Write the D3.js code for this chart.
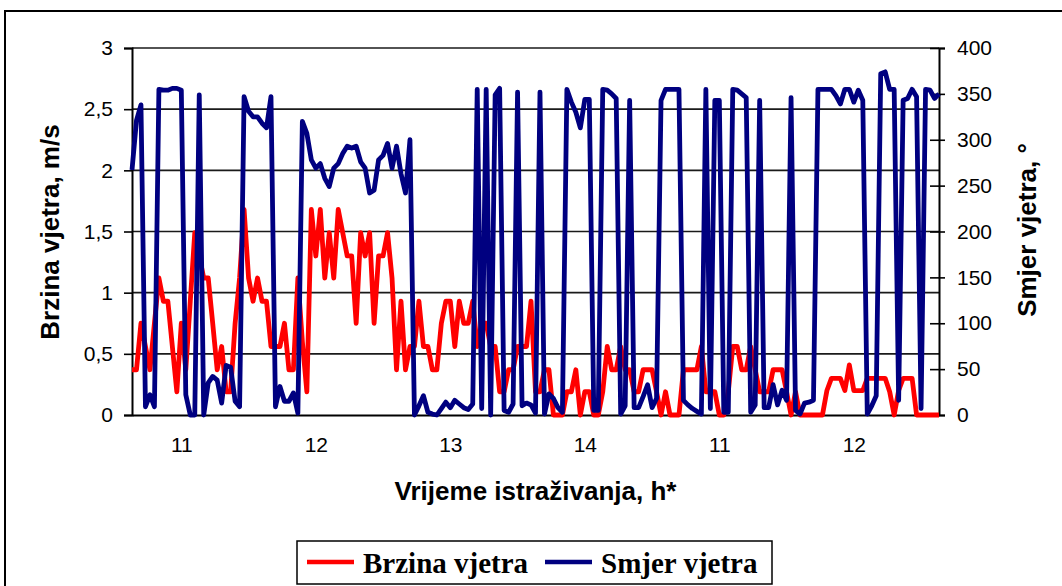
<!DOCTYPE html>
<html><head><meta charset="utf-8">
<script src="https://cdn.jsdelivr.net/npm/d3@7"></script>
<style>body{margin:0;background:#fff}svg{display:block}</style>
</head><body>
<svg id="c" width="1062" height="586"></svg>
<script>
const hourLabels = ["11","12","13","14","11","12"];
const hourTickIndex = [11,41,71,101,131,161];
const speedTicks = [0,0.5,1,1.5,2,2.5,3];
const speedTickLabels = ["0","0,5","1","1,5","2","2,5","3"];
const dirTicks = [0,50,100,150,200,250,300,350,400];
const seriesNames = ["Brzina vjetra","Smjer vjetra"];

const speed = [
0.37,0.37,0.75,0.56,0.37,0.75,1.12,0.93,0.93,0.56,
0.19,0.75,0.37,0.93,1.49,1.3,1.12,1.12,0.75,0.37,
0.56,0.19,0.19,0.75,1.12,1.68,1.12,0.93,1.12,0.93,
0.93,0.56,0.56,0.56,0.75,0.37,0.37,1.12,0.6,0.19,
1.68,1.3,1.68,1.12,1.49,1.12,1.68,1.49,1.3,1.3,
0.75,1.49,1.3,1.49,0.75,1.3,1.3,1.49,1.12,0.37,
0.93,0.37,0.56,0.56,0.93,0.56,0.56,0.37,0.37,0.75,
0.93,0.93,0.56,0.93,0.75,0.75,0.93,0.56,0.75,0.75,
0.56,0.56,0.19,0.19,0.37,0.37,0.56,0.56,0.56,0.93,
0.19,0.19,0.37,0.37,0,0,0,0.19,0.19,0.37,
0,0.19,0.19,0,0,0.19,0.56,0.37,0.37,0.56,
0.37,0.37,0.19,0.19,0.37,0.37,0.37,0.19,0,0.19,
0,0,0,0.37,0.37,0.37,0.37,0.56,0.19,0.19,
0.19,0,0,0.19,0.56,0.56,0.37,0.37,0.56,0.37,
0.19,0.19,0.19,0.37,0.37,0.37,0.19,0,0.19,0,
0,0,0,0,0,0.2,0.3,0.3,0.3,0.2,
0.41,0.2,0.2,0.2,0.3,0.3,0.3,0.3,0.3,0.19,
0,0.2,0.3,0.3,0.3,0,0,0,0,0,0];

const direction = [
267,321,338,9,22,9,355,354,354,356,
356,354,22,0,0,349,0,35,42,38,
13,54,52,15,9,347,331,325,325,318,
313,347,9,31,15,15,24,2,320,307,
278,269,274,258,249,269,274,285,293,291,
293,276,269,242,245,278,283,296,269,293,
263,242,300,0,10,21,3,1,0,7,
14,8,16,12,8,6,12,355,7,355,
0,349,356,5,3,12,352,10,13,11,
2,352,1,23,18,8,3,355,341,330,
313,344,344,5,5,355,354,350,345,1,
10,343,8,8,20,33,8,18,343,355,
355,355,355,16,11,7,4,1,355,7,
343,343,3,3,355,354,350,346,3,11,
343,8,8,33,11,27,16,346,5,1,
13,14,16,355,355,355,355,348,339,355,
355,341,354,343,1,10,21,372,374,355,
355,16,343,345,355,347,7,355,354,345,350];

const svg = d3.select("#c");
const L = 132, R = 939, T = 48, B = 415;
const idx = d3.range(speed.length);
const x = d3.scalePoint().domain(idx).range([L, R]).padding(0);
const yL = d3.scaleLinear().domain([0,3]).range([B, T]);
const yR = d3.scaleLinear().domain([0,400]).range([B, T]);
const axisFont = "'Liberation Sans', Arial, sans-serif";

// outer frame
svg.append("rect").attr("x",5).attr("y",11).attr("width",1070).attr("height",590)
  .attr("fill","none").attr("stroke","#000").attr("stroke-width",2);

// gridlines
svg.append("g").selectAll("line").data(speedTicks.slice(1)).join("line")
  .attr("x1",L).attr("x2",R).attr("y1",d=>yL(d)).attr("y2",d=>yL(d))
  .attr("stroke","#1a1a1a").attr("stroke-width",1.6);

// left axis
const gl = svg.append("g").attr("transform",`translate(${L},0)`)
  .call(d3.axisLeft(yL).tickValues(speedTicks).tickSize(8).tickPadding(11)
        .tickFormat((d,i)=>speedTickLabels[i]));
gl.select(".domain").attr("stroke","#000").attr("stroke-width",2);
gl.selectAll(".tick line").attr("stroke","#000").attr("stroke-width",1.6);
gl.selectAll("text").attr("font-family",axisFont).attr("font-size",21).attr("fill","#000");

// right axis
const gr = svg.append("g").attr("transform",`translate(${R},0)`)
  .call(d3.axisRight(yR).tickValues(dirTicks).tickSize(6).tickPadding(12));
gr.select(".domain").attr("stroke","#000").attr("stroke-width",2);
gr.selectAll(".tick line").attr("x1",-9).attr("stroke","#000").attr("stroke-width",1.6);
gr.selectAll("text").attr("font-family",axisFont).attr("font-size",21).attr("fill","#000");

// bottom axis
const gb = svg.append("g").attr("transform",`translate(0,${B})`)
  .call(d3.axisBottom(x).tickValues(hourTickIndex).tickSize(0).tickPadding(22)
        .tickFormat((d,i)=>hourLabels[i]));
gb.select(".domain").attr("stroke","#000").attr("stroke-width",2);
gb.selectAll("text").attr("font-family",axisFont).attr("font-size",21).attr("fill","#000");

// lines
const lineS = d3.line().x((d,i)=>x(i)).y(d=>yL(d));
const lineD = d3.line().x((d,i)=>x(i)).y(d=>yR(d));
svg.append("path").datum(speed).attr("d",lineS).attr("fill","none")
  .attr("stroke","#ff0000").attr("stroke-width",4.8).attr("stroke-linejoin","round");
svg.append("path").datum(direction).attr("d",lineD).attr("fill","none")
  .attr("stroke","#000080").attr("stroke-width",4.8).attr("stroke-linejoin","round");

// axis titles
svg.append("text").attr("transform","translate(59,232) rotate(-90)")
  .attr("text-anchor","middle").attr("font-family",axisFont).attr("font-weight","bold")
  .attr("font-size",26).text("Brzina vjetra, m/s");
svg.append("text").attr("transform","translate(1036,230) rotate(-90)")
  .attr("text-anchor","middle").attr("font-family",axisFont).attr("font-weight","bold")
  .attr("font-size",26).text("Smjer vjetra, °");
svg.append("text").attr("x",(L+R)/2).attr("y",500)
  .attr("text-anchor","middle").attr("font-family",axisFont).attr("font-weight","bold")
  .attr("font-size",26).text("Vrijeme istraživanja, h*");

// legend
const lg = svg.append("g");
lg.append("rect").attr("x",297).attr("y",541).attr("width",475).attr("height",43)
  .attr("fill","#fff").attr("stroke","#000").attr("stroke-width",1.5);
const legItems = [
  {name: seriesNames[0], color:"#ff0000", lx:307, tx:363},
  {name: seriesNames[1], color:"#000080", lx:545, tx:601}
];
legItems.forEach(it=>{
  lg.append("line").attr("x1",it.lx).attr("x2",it.lx+47).attr("y1",562).attr("y2",562)
    .attr("stroke",it.color).attr("stroke-width",4.5);
  lg.append("text").attr("x",it.tx).attr("y",573).attr("font-family","'Liberation Serif', 'DejaVu Serif', serif")
    .attr("font-weight","bold").attr("font-size",29).text(it.name);
});
</script>
</body></html>
